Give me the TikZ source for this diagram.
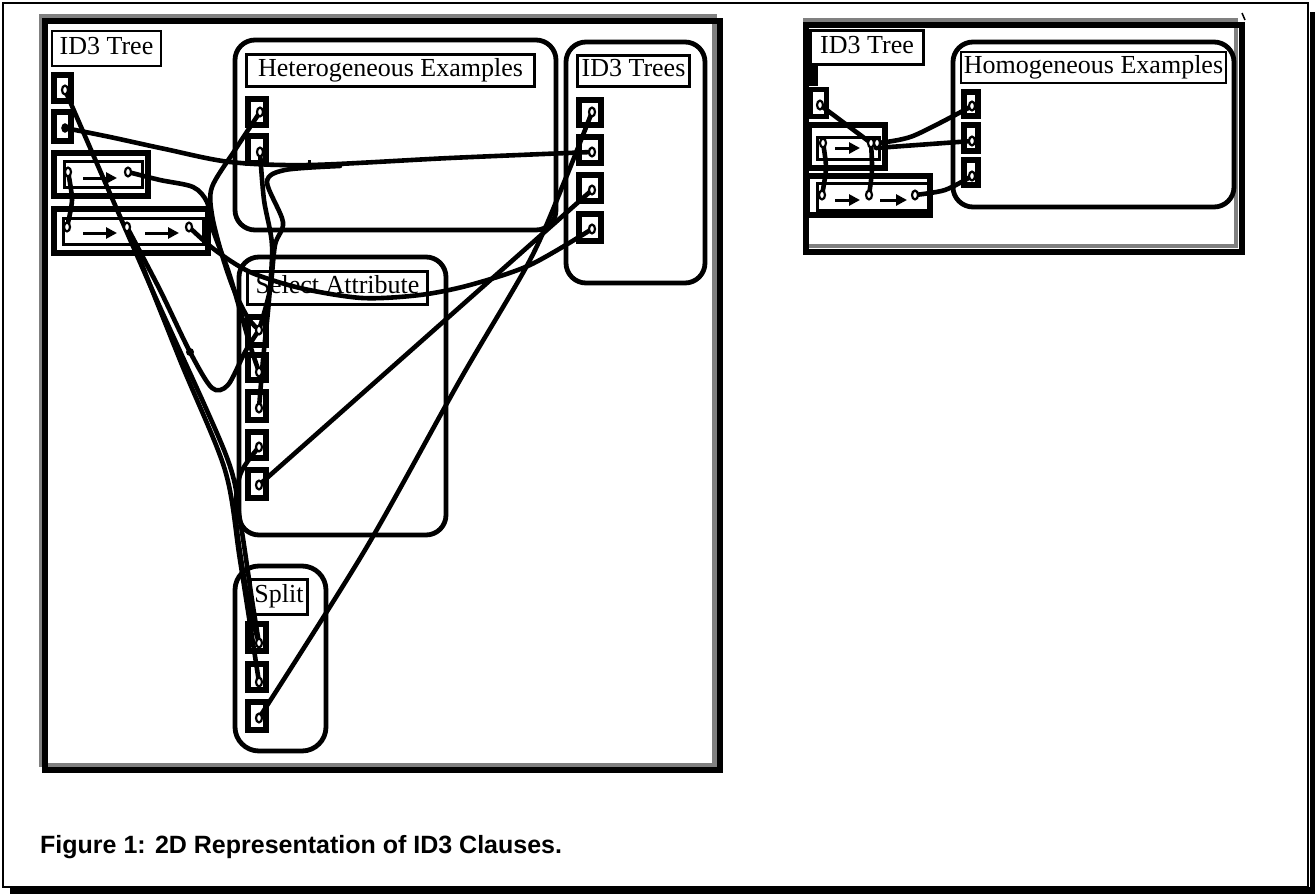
\documentclass[tikz,border=0pt]{standalone}
\usepackage{fontspec}
\setmainfont{Liberation Serif}
\newfontfamily\capfont{Liberation Sans}
\usetikzlibrary{arrows.meta}
\begin{document}
\begin{tikzpicture}[x=1pt,y=-1pt,
  conn/.style={line width=4.6pt, line cap=round, line join=round},
  grp/.style={draw, line width=4.8pt, rounded corners=20pt, inner sep=0pt},
  hdr/.style={draw, line width=2.2pt, inner sep=0pt, fill=white, font=\fontsize{26}{30}\selectfont, text height=17pt, text depth=6pt},
  slotbox/.style={draw, line width=5.5pt, inner sep=0pt, fill=white},
  innerbox/.style={draw, line width=3pt, inner sep=0pt},
  portst/.style={draw, line width=2.2pt, fill=white},
  arr/.style={line width=3pt, -{Triangle[length=11pt,width=11pt]}},
  panelgray/.style={draw=gray, line width=4.5pt},
  panelblack/.style={draw=black, line width=6pt}]
\useasboundingbox (0,0) rectangle (1315,894);
% page frame
\draw[line width=2.2pt] (3,3) rectangle (1308,887);
\fill (10,887) rectangle (1315,894);
\fill (1310,12) rectangle (1315,894);
% left panel frame
\draw[panelgray] (41,16.5) rectangle (714.5,765);
\draw[panelblack] (44.5,21) rectangle (720,769.5);
% right panel frame
\draw[panelgray] (805,20) rectangle (1236,246);
\draw[panelblack] (806,24.5) rectangle (1242,251.5);
\draw[line width=1.5pt] (1242,13) -- (1245,20);
% ---------- left panel groups ----------
\node[grp, minimum width=321pt, minimum height=190pt] (het) at (395.5,135) {};
\node[grp, minimum width=139pt, minimum height=241pt] (trees) at (635.5,162.5) {};
\node[grp, minimum width=207pt, minimum height=278pt] (sel) at (342.5,396) {};
\node[grp, minimum width=91pt, minimum height=185pt, rounded corners=24pt] (split) at (280.5,658.5) {};
% headers
\node[hdr, minimum width=109pt, minimum height=35pt] (hA) at (106.5,48.5) {ID3 Tree};
\node[hdr, minimum width=288pt, minimum height=32pt] (hH) at (390.5,70.5) {Heterogeneous Examples};
\node[hdr, minimum width=112pt, minimum height=31pt] (hT) at (633.5,71) {ID3 Trees};
\node[hdr, minimum width=180pt, minimum height=33pt] (hS) at (337.5,288) {Select Attribute};
\node[hdr, minimum width=57pt, minimum height=35pt] (hP) at (279,597) {Split};
% ID3 Tree slots
\node[slotbox, minimum width=17pt, minimum height=26pt] (a1) at (62.5,88) {};
\node[slotbox, minimum width=17pt, minimum height=29pt] (a2) at (62.5,126.5) {};
\node[slotbox, minimum width=94pt, minimum height=43pt] (a3) at (101,174.5) {};
\node[innerbox, minimum width=78pt, minimum height=26pt] (a3i) at (103,174) {};
\node[slotbox, minimum width=154pt, minimum height=44pt] (a4) at (131,231) {};
\node[innerbox, minimum width=140pt, minimum height=26pt] (a4i) at (133,231) {};
\draw[arr] (83,178) -- (117,178);
\draw[arr] (83,233) -- (117,233);
\draw[arr] (145,233) -- (179,233);
% Het slots
\node[slotbox, minimum width=18pt, minimum height=26pt] (h1) at (257,112) {};
\node[slotbox, minimum width=18pt, minimum height=27pt] (h2) at (257,149.5) {};
% ID3 Trees slots
\node[slotbox, minimum width=22pt, minimum height=25pt] (t1) at (590,112.5) {};
\node[slotbox, minimum width=22pt, minimum height=26pt] (t2) at (590,150) {};
\node[slotbox, minimum width=22pt, minimum height=26pt] (t3) at (590,188) {};
\node[slotbox, minimum width=22pt, minimum height=27pt] (t4) at (590,227.5) {};
% Select slots
\node[slotbox, minimum width=18pt, minimum height=28pt] (s1) at (257,331) {};
\node[slotbox, minimum width=18pt, minimum height=25pt] (s2) at (257,367.5) {};
\node[slotbox, minimum width=18pt, minimum height=28pt] (s3) at (257,406) {};
\node[slotbox, minimum width=18pt, minimum height=26pt] (s4) at (257,445) {};
\node[slotbox, minimum width=18pt, minimum height=28pt] (s5) at (257,484) {};
% Split slots
\node[slotbox, minimum width=18pt, minimum height=27pt] (p1) at (257,637.5) {};
\node[slotbox, minimum width=18pt, minimum height=26pt] (p2) at (257,677) {};
\node[slotbox, minimum width=18pt, minimum height=28pt] (p3) at (257,716) {};
% ports (left)
\coordinate (a1p) at (65,90);
\coordinate (a2p) at (65,128);
\coordinate (a3p1) at (68,172);
\coordinate (a3p2) at (128,172);
\coordinate (a4p1) at (67,227);
\coordinate (a4p2) at (127,227);
\coordinate (a4p3) at (189,227);
\coordinate (h1p) at (260,112);
\coordinate (h2p) at (260,152);
\coordinate (t1p) at (592,112);
\coordinate (t2p) at (592,152);
\coordinate (t3p) at (592,190);
\coordinate (t4p) at (592,229);
\coordinate (s1p) at (259,330);
\coordinate (s2p) at (259,372);
\coordinate (s3p) at (259,408);
\coordinate (s4p) at (259,447);
\coordinate (s5p) at (259,485);
\coordinate (p1p) at (259,643);
\coordinate (p2p) at (259,682);
\coordinate (p3p) at (259,718);
\coordinate (br) at (340,166);
% connectors (left)
\draw[conn] plot[smooth] coordinates {(a1p) (150,285) (226,455) (240,520) (252,600) (p1p)};
\draw[conn] plot[smooth] coordinates {(a2p) (110,137) (165,149) (230,162) (310,165) (450,158) (t2p)};
\draw[conn] plot[smooth] coordinates {(a3p2) (160,180) (193,187) (207,202) (213,230) (228,270) (240,310) (250,345) (s2p)};
\draw[conn] plot[smooth] coordinates {(a3p1) (72,200) (a4p1)};
\draw[conn] plot[smooth] coordinates {(h1p) (235,150) (212,187) (212,215) (222,255) (234,290) (248,318) (s1p)};
\draw[conn] plot[smooth] coordinates {(h2p) (264,200) (272,245) (269,300) (263,360) (s3p)};
\draw[conn] plot[smooth, tension=0.5] coordinates {(br) (285,170) (267,182) (283,222) (275,245) (270,290) (s1p)};
\draw[conn] plot[smooth] coordinates {(a4p2) (160,290) (190,352) (212,388) (228,385) (245,352) (s1p)};
\draw[conn] plot[smooth] coordinates {(a4p2) (180,360) (225,470) (240,560) (p2p)};
\draw[conn] plot[smooth] coordinates {(s4p) (240,475) (236,520) (248,600) (p1p)};
\draw[conn] plot[smooth] coordinates {(a4p3) (215,250) (250,272) (300,288) (362,298) (420,295) (470,285) (530,265) (t4p)};
\draw[conn] (s5p) -- (t3p);
\draw[conn] plot[smooth] coordinates {(p3p) (365,550) (460,380) (530,260) (565,180) (t1p)};
\fill (190,352) circle (4);
\draw[line width=3pt] (309,160) -- (309,167);
% port glyphs (left)
\foreach \p in {a1p,a3p1,a3p2,a4p1,a4p2,a4p3,h1p,h2p,t1p,t2p,t3p,t4p,s1p,s2p,s3p,s4p,s5p,p1p,p2p,p3p}
  \draw[portst] (\p) ellipse [x radius=3, y radius=4.4];
\fill (a2p) ellipse [x radius=3.8, y radius=4.8];
% ---------- right panel ----------
\node[grp, minimum width=281pt, minimum height=165pt] (hom) at (1093.5,124.5) {};
\node[hdr, minimum width=113pt, minimum height=34pt] (hR) at (867,47.5) {ID3 Tree};
\node[hdr, minimum width=265pt, minimum height=31pt] (hG) at (1093.5,67.5) {Homogeneous Examples};
\fill (806,65) rectangle (818,86);
\node[slotbox, minimum width=16pt, minimum height=27pt] (r1) at (818.5,103) {};
\node[slotbox, minimum width=76pt, minimum height=43pt] (r2) at (847,146.5) {};
\node[innerbox, minimum width=62pt, minimum height=22pt] (r2i) at (848,148) {};
\node[slotbox, minimum width=123pt, minimum height=39pt] (r3) at (868.5,195.5) {};
\node[innerbox, minimum width=111pt, minimum height=27pt] (r3i) at (872.5,196.5) {};
\draw[arr] (835,148) -- (860,148);
\draw[arr] (835,200) -- (860,200);
\draw[arr] (880,200) -- (907,200);
\node[slotbox, minimum width=14pt, minimum height=24pt] (g1) at (971,104) {};
\node[slotbox, minimum width=14pt, minimum height=26pt] (g2) at (971,138) {};
\node[slotbox, minimum width=14pt, minimum height=25pt] (g3) at (971,172.5) {};
\coordinate (r1p) at (820,105);
\coordinate (r2p1) at (823,143);
\coordinate (r2p2) at (871,143);
\coordinate (r2p3) at (877,143);
\coordinate (r3p1) at (822,195);
\coordinate (r3p2) at (869,195);
\coordinate (r3p3) at (915,195);
\coordinate (g1p) at (972,106);
\coordinate (g2p) at (972,141);
\coordinate (g3p) at (972,176);
\draw[conn] (r1p) -- (r2p2);
\draw[conn] plot[smooth] coordinates {(r2p3) (913,136) (g1p)};
\draw[conn] (876,148) -- (g2p);
\draw[conn] plot[smooth] coordinates {(r2p1) (826,168) (r3p1)};
\draw[conn] plot[smooth] coordinates {(r2p2) (872,170) (r3p2)};
\draw[conn] plot[smooth] coordinates {(r3p3) (945,190) (g3p)};
\foreach \p in {r1p,r2p1,r2p2,r2p3,r3p1,r3p2,r3p3,g1p,g2p,g3p}
  \draw[portst] (\p) ellipse [x radius=3, y radius=4.4];
% caption
\node[anchor=base west, inner sep=0pt, font=\capfont\bfseries\fontsize{25}{30}\selectfont] (cap) at (40,853) {Figure 1: 2D Representation of ID3 Clauses.};
\end{tikzpicture}
\end{document}
